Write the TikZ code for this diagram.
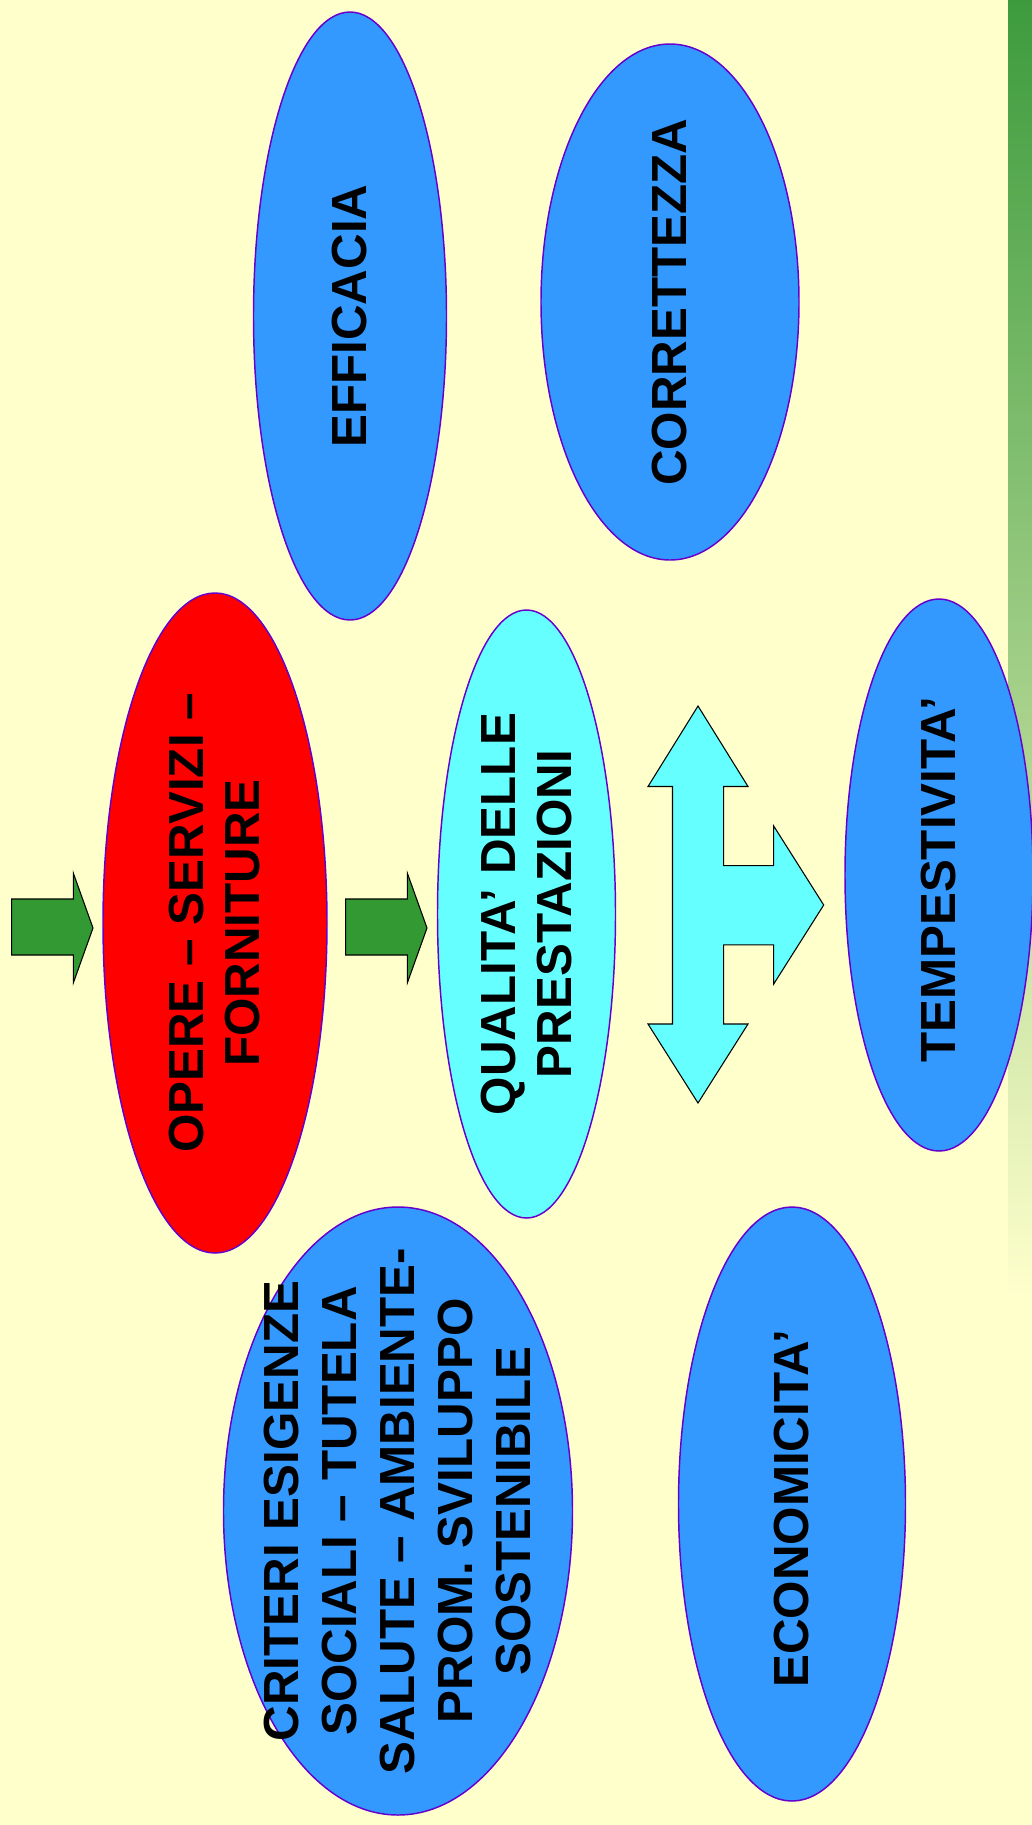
\documentclass[tikz,border=0pt]{standalone}
\usepackage{fontspec}
\setmainfont{Liberation Sans}
\usepackage{xcolor}
\usepackage{tikz}
\usetikzlibrary{shapes.geometric}
\definecolor{colorBg}{HTML}{FFFFCC}
\definecolor{colorBlue}{HTML}{3399FF}
\definecolor{colorRed}{HTML}{FF0000}
\definecolor{colorCyan}{HTML}{66FFFF}
\definecolor{colorGreen}{HTML}{339933}
\definecolor{colorEdge}{HTML}{6600CC}
\definecolor{colorBar}{HTML}{3D9B3D}
\definecolor{colorBarMid}{HTML}{A6C68E}

\begin{document}
\begin{tikzpicture}[x=0.75pt,y=-0.75pt,
        bubble/.style={ellipse, draw=colorEdge, line width=1.1pt, inner sep=0pt},
        caption/.style={rotate=90, align=center, inner sep=0pt,
            font=\bfseries\fontsize{37}{42}\selectfont}]
        \useasboundingbox (0,0) rectangle (1032,1825);
        \fill[colorBg] (0,0) rectangle (1032,1825);
        \shade[top color=colorBar, middle color=colorBarMid, bottom color=colorBg] (1008,0) rectangle (1032,1300);

        % green arrows
        \filldraw[fill=colorGreen, thick] (11.6,899) -- (73.3,899) -- (73.3,873) -- (93,928) -- (73.3,983) -- (73.3,955) -- (11.6,955) -- cycle;
        \begin{scope}[shift={(334,0)}]
            \filldraw[fill=colorGreen, thick] (11.6,899) -- (73.3,899) -- (73.3,873) -- (93,928) -- (73.3,983) -- (73.3,955) -- (11.6,955) -- cycle;
        \end{scope}

        % three-way arrow
        \filldraw[fill=colorCyan, thick] (698,706) -- (748,786.5) -- (723.7,786.5) -- (723.7,865.6) -- (773.7,865.6) -- (773.7,826) -- (823.7,905) -- (773.7,984) -- (773.7,944.8) -- (723.7,944.8) -- (723.7,1024) -- (748,1024) -- (698,1103) -- (648,1024) -- (672.5,1024) -- (672.5,786.5) -- (648,786.5) -- cycle;

        \node[bubble, fill=colorBlue, minimum width=144.75pt, minimum height=456pt] (efficacia) at (350,316) {};
        \node[caption] (efficaciaText) at (efficacia) {EFFICACIA};

        \node[bubble, fill=colorBlue, minimum width=193.5pt, minimum height=387pt] (correttezza) at (670,302) {};
        \node[caption] (correttezzaText) at (correttezza) {CORRETTEZZA};

        \node[bubble, fill=colorRed, minimum width=168pt, minimum height=495pt] (opere) at (215,923) {};
        \node[caption] (opereText) at (opere) {OPERE – SERVIZI –\\FORNITURE};

        \node[bubble, fill=colorCyan, minimum width=133.5pt, minimum height=456pt] (qualita) at (526.5,914) {};
        \node[caption] (qualitaText) at (qualita) {QUALITA’ DELLE\\PRESTAZIONI};

        \node[bubble, fill=colorBlue, minimum width=141pt, minimum height=414pt] (tempestivita) at (939,875) {};
        \node[caption] (tempestivitaText) at ([yshift=-3.5pt]tempestivita.center) {TEMPESTIVITA’};

        \node[bubble, fill=colorBlue, minimum width=261.75pt, minimum height=456pt] (criteri) at (398,1511) {};
        \node[caption, font=\bfseries\fontsize{37}{43.5}\selectfont] (criteriText) at (criteri) {CRITERI ESIGENZE\\SOCIALI – TUTELA\\SALUTE – AMBIENTE-\\PROM. SVILUPPO\\SOSTENIBILE};

        \node[bubble, fill=colorBlue, minimum width=170.25pt, minimum height=445.5pt] (economicita) at (792,1504) {};
        \node[caption] (economicitaText) at ([yshift=-3.5pt]economicita.center) {ECONOMICITA’};
    \end{tikzpicture}
\end{document}
